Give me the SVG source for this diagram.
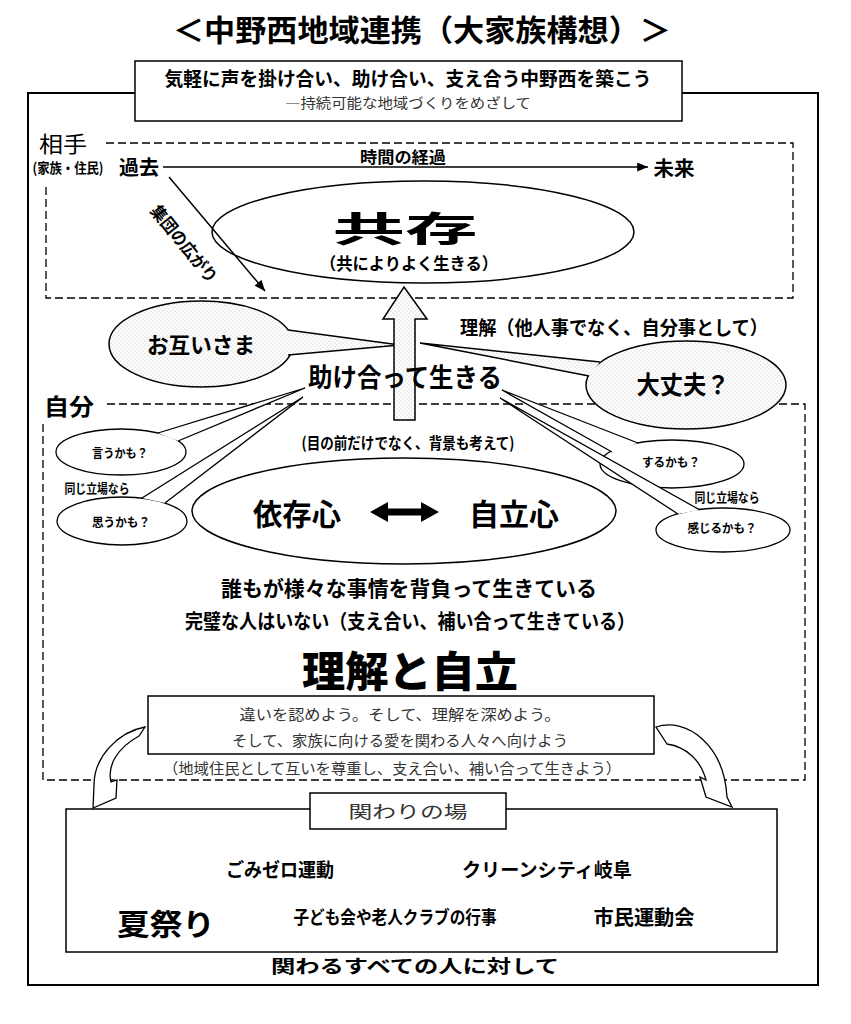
<svg xmlns="http://www.w3.org/2000/svg" width="851" height="1024" viewBox="0 0 851 1024">
<defs>
<style>
text{font-family:"Noto Sans CJK JP","Noto Sans CJK SC",sans-serif;fill:#000;dominant-baseline:central;text-anchor:middle}
.b{font-weight:bold}
.l{font-weight:normal;fill:#333}
.box{fill:#fff;stroke:#000;stroke-width:1.5}
.dash{fill:none;stroke:#000;stroke-width:1.3;stroke-dasharray:8 4}
.dot{fill:url(#dots);stroke:#000;stroke-width:1.5}
.wb{fill:#fff;stroke:#000;stroke-width:1.3}
.ln{fill:none;stroke:#000;stroke-width:1.5}
</style>
<pattern id="dots" width="4" height="4" patternUnits="userSpaceOnUse"><rect width="4" height="4" fill="#fff"/><circle cx="1" cy="1" r="0.6" fill="#b5b5b5"/><circle cx="3" cy="3" r="0.6" fill="#b5b5b5"/></pattern>
<marker id="ah" viewBox="0 0 12 10" refX="12" refY="5" markerWidth="12" markerHeight="9" markerUnits="userSpaceOnUse" orient="auto"><path d="M0,0 L12,5 L0,10 Z" fill="#000"/></marker>
</defs>
<rect width="851" height="1024" fill="#fff"/>

<g id="title"><text x="422" y="28" class="b" font-size="30" textLength="498" lengthAdjust="spacingAndGlyphs">＜中野西地域連携（大家族構想）＞</text></g>

<g id="frame">
<rect x="28" y="93" width="790" height="892" fill="none" stroke="#000" stroke-width="2"/>
<path class="dash" d="M106,143 H793 V298 H46 V183"/>
<path class="dash" d="M107,404 H805 V780 H43 V423"/>
</g>

<g id="headline">
<rect class="box" x="135" y="61" width="547" height="60"/>
<text x="408" y="77" class="b" font-size="19" textLength="487" lengthAdjust="spacingAndGlyphs">気軽に声を掛け合い、助け合い、支え合う中野西を築こう</text>
<text x="408" y="102" class="l" font-size="14" textLength="246" lengthAdjust="spacingAndGlyphs">―持続可能な地域づくりをめざして</text>
</g>

<g id="labels">
<text x="63" y="142" font-size="22" textLength="48" lengthAdjust="spacingAndGlyphs">相手</text>
<text x="68" y="167" class="b" font-size="14" textLength="71" lengthAdjust="spacingAndGlyphs">(家族・住民)</text>
<text x="69" y="405" class="b" font-size="23" textLength="50" lengthAdjust="spacingAndGlyphs">自分</text>
</g>

<g id="connectors">
<line class="ln" x1="163" y1="167" x2="648" y2="167" marker-end="url(#ah)"/>
<line class="ln" x1="169" y1="177" x2="265" y2="291" marker-end="url(#ah)"/>
</g>

<g id="time-labels">
<text x="139" y="166" class="b" font-size="20" textLength="40" lengthAdjust="spacingAndGlyphs">過去</text>
<text x="403" y="156" class="b" font-size="16" textLength="86" lengthAdjust="spacingAndGlyphs">時間の経過</text>
<text x="674" y="167" class="b" font-size="20" textLength="41" lengthAdjust="spacingAndGlyphs">未来</text>
<text transform="translate(185,243) rotate(51)" class="b" font-size="17" textLength="94" lengthAdjust="spacingAndGlyphs">集団の広がり</text>
</g>

<g id="kyozon">
<ellipse cx="423" cy="232" rx="211" ry="51" fill="none" stroke="#000" stroke-width="1.5"/>
<text x="405" y="226" class="b" font-size="35" textLength="145" lengthAdjust="spacingAndGlyphs">共存</text>
<text x="409" y="262" class="b" font-size="17" textLength="178" lengthAdjust="spacingAndGlyphs">（共によりよく生きる）</text>
</g>

<g id="otagaisama">
<ellipse class="dot" cx="201" cy="344" rx="92" ry="43"/>
<path class="dot" d="M288,330 L400,345 L288,355"/>
<text x="201" y="343" class="b" font-size="22" textLength="108" lengthAdjust="spacingAndGlyphs">お互いさま</text>
</g>

<g id="daijoubu">
<ellipse class="dot" cx="686" cy="385" rx="100" ry="44"/>
<path class="dot" d="M600,362 L420,343 L589,376"/>
<text x="683" y="383" class="b" font-size="25" textLength="93" lengthAdjust="spacingAndGlyphs">大丈夫？</text>
</g>

<g id="iu">
<ellipse class="wb" cx="121" cy="452" rx="65" ry="23"/>
<path class="wb" d="M158,433 L305,388 L178,441"/>
<text x="120" y="452" class="b" font-size="12" textLength="56" lengthAdjust="spacingAndGlyphs">言うかも？</text>
</g>

<g id="omou">
<ellipse class="wb" cx="122" cy="521" rx="65" ry="24"/>
<path class="wb" d="M142,498 L303,397 L165,503"/>
<text x="121" y="521" class="b" font-size="12" textLength="58" lengthAdjust="spacingAndGlyphs">思うかも？</text>
</g>

<g id="suru">
<ellipse class="wb" cx="672" cy="464" rx="72" ry="24"/>
<path class="wb" d="M638,443 L502,390 L612,452"/>
<text x="671" y="461" class="b" font-size="12" textLength="58" lengthAdjust="spacingAndGlyphs">するかも？</text>
</g>

<g id="kanjiru">
<ellipse class="wb" cx="723" cy="530" rx="67" ry="22"/>
<path class="wb" d="M700,510 L500,398 L678,514"/>
<text x="722" y="527" class="b" font-size="12" textLength="69" lengthAdjust="spacingAndGlyphs">感じるかも？</text>
</g>

<g id="onaji">
<text x="97" y="487" class="b" font-size="13" textLength="65" lengthAdjust="spacingAndGlyphs">同じ立場なら</text>
<text x="727" y="496" class="b" font-size="13" textLength="65" lengthAdjust="spacingAndGlyphs">同じ立場なら</text>
</g>

<g id="up-arrow">
<path class="dot" d="M404,287 L427,319 L415,319 L415,420 L394,420 L394,319 L383,319 Z"/>
</g>

<g id="tasukeai">
<text x="405" y="375" class="b" font-size="26" textLength="194" lengthAdjust="spacingAndGlyphs">助け合って生きる</text>
<text x="614" y="326" class="b" font-size="19" textLength="308" lengthAdjust="spacingAndGlyphs">理解（他人事でなく、自分事として）</text>
<text x="408" y="442" class="b" font-size="16" textLength="213" lengthAdjust="spacingAndGlyphs">(目の前だけでなく、背景も考えて)</text>
</g>

<g id="izon">
<ellipse cx="404" cy="511" rx="212" ry="53" fill="#fff" stroke="#000" stroke-width="1.5"/>
<text x="297" y="512" class="b" font-size="30" textLength="88" lengthAdjust="spacingAndGlyphs">依存心</text>
<text x="514" y="512" class="b" font-size="30" textLength="90" lengthAdjust="spacingAndGlyphs">自立心</text>
<path d="M370,512 L388,502 L388,508.5 L421,508.5 L421,502 L439,512 L421,522 L421,515.5 L388,515.5 L388,522 Z" fill="#000"/>
</g>

<g id="middle-text">
<text x="409" y="587" class="b" font-size="21" textLength="376" lengthAdjust="spacingAndGlyphs">誰もが様々な事情を背負って生きている</text>
<text x="410" y="620" class="b" font-size="20" textLength="450" lengthAdjust="spacingAndGlyphs">完璧な人はいない（支え合い、補い合って生きている）</text>
<text x="410" y="668" font-size="42" font-weight="900" textLength="216" lengthAdjust="spacingAndGlyphs">理解と自立</text>
</g>

<g id="message">
<rect class="box" x="148" y="696" width="506" height="58"/>
<text x="400" y="713" class="l" font-size="15" textLength="321" lengthAdjust="spacingAndGlyphs">違いを認めよう。そして、理解を深めよう。</text>
<text x="400" y="739" class="l" font-size="15" textLength="336" lengthAdjust="spacingAndGlyphs">そして、家族に向ける愛を関わる人々へ向けよう</text>
<text x="392" y="767" class="l" font-size="15" textLength="458" lengthAdjust="spacingAndGlyphs">（地域住民として互いを尊重し、支え合い、補い合って生きよう）</text>
</g>

<g id="curved-arrows">
<path class="wb" d="M145,727 C118,732 94,757 94,785 L93,808 L116,798 L117,780 L111,782 C107,766 117,748 139,736 Z"/>
<path class="wb" d="M656,727 C687,717 724,745 727,797 L732,807 L706,797 L700,777 L706,780 C701,761 687,747 667,744 Z"/>
</g>

<g id="venue">
<rect x="66" y="809" width="711" height="143" fill="none" stroke="#000" stroke-width="1.5"/>
<rect class="box" x="310" y="793" width="196" height="36"/>
<text x="408" y="810" class="l" font-size="17" textLength="119" lengthAdjust="spacingAndGlyphs">関わりの場</text>
<text x="280" y="868" class="b" font-size="19" textLength="108" lengthAdjust="spacingAndGlyphs">ごみゼロ運動</text>
<text x="547" y="868" class="b" font-size="19" textLength="170" lengthAdjust="spacingAndGlyphs">クリーンシティ岐阜</text>
<text x="166" y="922" class="b" font-size="30" textLength="98" lengthAdjust="spacingAndGlyphs">夏祭り</text>
<text x="395" y="916" class="b" font-size="18" textLength="203" lengthAdjust="spacingAndGlyphs">子ども会や老人クラブの行事</text>
<text x="644" y="916" class="b" font-size="20" textLength="101" lengthAdjust="spacingAndGlyphs">市民運動会</text>
<text x="415" y="965" class="b" font-size="18" textLength="288" lengthAdjust="spacingAndGlyphs">関わるすべての人に対して</text>
</g>
</svg>
